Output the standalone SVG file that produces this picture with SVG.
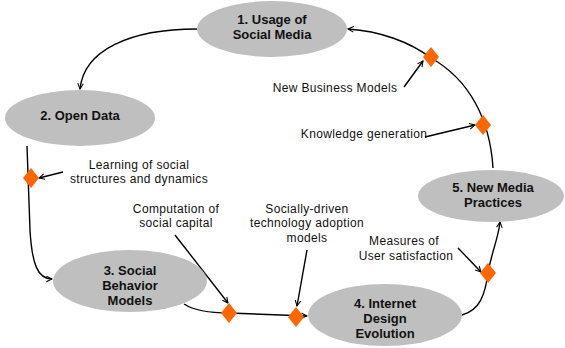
<svg xmlns="http://www.w3.org/2000/svg" width="565" height="348" viewBox="0 0 565 348">
<style>
.node{fill:#BFBFBF;stroke:none}
.nl{font-family:"Liberation Sans",Arial,sans-serif;font-size:13px;font-weight:bold;fill:#111;text-anchor:middle}
.al{font-family:"Liberation Sans",Arial,sans-serif;font-size:12px;letter-spacing:0.35px;fill:#111;text-anchor:middle}
.c{fill:none;stroke:#000;stroke-width:1.4}
.d{fill:#FF6600}
</style>
<defs>
<marker id="ah" viewBox="0 0 10 10" refX="9" refY="5" markerWidth="7" markerHeight="7" orient="auto" markerUnits="userSpaceOnUse">
<path d="M1,1 L9,5 L1,9" fill="none" stroke="#000" stroke-width="1.5"/>
</marker>
<path id="dm" d="M0,-10 L8,0 L0,10 L-8,0 Z"/>
</defs>
<g id="connectors">
<path class="c" d="M197,29 C130,29 84,50 80,89" marker-end="url(#ah)"/>
<path class="c" d="M27,146 L30,230 C32,265 38,279 52,279" marker-end="url(#ah)"/>
<path class="c" d="M184,304 C195,311 210,313 229,313 L307,316" marker-end="url(#ah)"/>
<path class="c" d="M462,315 C480,310 485,295 488,273 C492,250 498,240 500,222" marker-end="url(#ah)"/>
<path class="c" d="M493,168 C490,120 470,80 431,58 C410,42 380,31 348,29" marker-end="url(#ah)"/>
<path class="c" d="M63,172 L39,178" marker-end="url(#ah)"/>
<path class="c" d="M175,235 L228,303" marker-end="url(#ah)"/>
<path class="c" d="M307,250 L297,306" marker-end="url(#ah)"/>
<path class="c" d="M458,248 L481,272" marker-end="url(#ah)"/>
<path class="c" d="M404,87 L423,61" marker-end="url(#ah)"/>
<path class="c" d="M425,137 L475,125" marker-end="url(#ah)"/>
</g>
<g id="diamonds">
<use href="#dm" class="d" x="31" y="178"/>
<use href="#dm" class="d" x="229" y="313"/>
<use href="#dm" class="d" x="296" y="317"/>
<use href="#dm" class="d" x="488" y="273"/>
<use href="#dm" class="d" x="483" y="125"/>
<use href="#dm" class="d" x="431" y="57"/>
</g>
<g id="n1"><ellipse class="node" cx="272" cy="29" rx="75" ry="28"/><text class="nl" x="272" y="24">1. Usage of</text><text class="nl" x="272" y="39">Social Media</text></g>
<g id="n2"><ellipse class="node" cx="80" cy="118" rx="75" ry="28"/><text class="nl" x="80" y="120">2. Open Data</text></g>
<g id="n3"><ellipse class="node" cx="130" cy="281" rx="77" ry="31"/><text class="nl" x="130" y="275">3. Social</text><text class="nl" x="130" y="290">Behavior</text><text class="nl" x="130" y="305">Models</text></g>
<g id="n4"><ellipse class="node" cx="385" cy="315" rx="77" ry="31"/><text class="nl" x="385" y="308">4. Internet</text><text class="nl" x="385" y="323">Design</text><text class="nl" x="385" y="338">Evolution</text></g>
<g id="n5"><ellipse class="node" cx="491" cy="196" rx="73" ry="26"/><text class="nl" x="493" y="192">5. New Media</text><text class="nl" x="493" y="207">Practices</text></g>
<g id="labels">
<text class="al" x="139" y="169">Learning of social</text>
<text class="al" x="139" y="183">structures and dynamics</text>
<text class="al" x="176" y="213">Computation of</text>
<text class="al" x="176" y="227">social capital</text>
<text class="al" x="307" y="213">Socially-driven</text>
<text class="al" x="307" y="227">technology adoption</text>
<text class="al" x="307" y="242">models</text>
<text class="al" x="404" y="245">Measures of</text>
<text class="al" x="406" y="260">User satisfaction</text>
<text class="al" x="335" y="92">New Business Models</text>
<text class="al" x="364" y="138">Knowledge generation</text>
</g>
</svg>
